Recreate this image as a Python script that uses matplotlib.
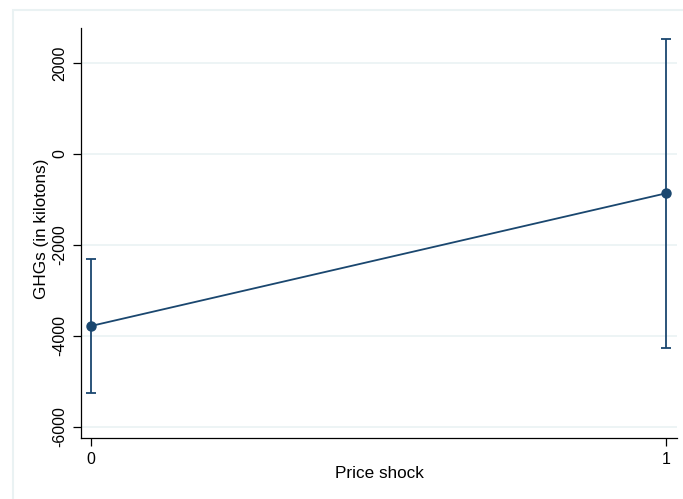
import matplotlib
matplotlib.use("Agg")
import matplotlib.pyplot as plt
from matplotlib.patches import Rectangle

plt.rcParams['font.family'] = ['Liberation Sans', 'DejaVu Sans']

# margins: predicted GHGs by price shock, with 95% CIs
shock = [0, 1]
ghg = [-3780, -864]
ci_low = [-5253, -4257]
ci_high = [-2308, 2527]
yticks = [-6000, -4000, -2000, 0, 2000]

navy = '#1a476f'
grid_col = '#eaf2f3'

fig = plt.figure(figsize=(6.83, 4.99), dpi=100)
ax = fig.add_axes([81 / 683, 1 - 438 / 499, (677 - 81) / 683, (438 - 28) / 499])

# light outer frame around the graph region
fig.patches.append(Rectangle((13 / 683, -0.05), 1.0, 1 - 10 / 499 + 0.05,
                             transform=fig.transFigure, fill=False,
                             edgecolor=grid_col, linewidth=1.5))

err_lo = [g - l for g, l in zip(ghg, ci_low)]
err_hi = [h - g for g, h in zip(ghg, ci_high)]
ax.errorbar(shock, ghg, yerr=[err_lo, err_hi], fmt='none', ecolor=navy,
            elinewidth=1.3, capsize=3.6, capthick=1.3, zorder=3)
ax.plot(shock, ghg, color=navy, linewidth=1.3, marker='o', markersize=6.5, zorder=4)

ax.set_xlim(-0.0174, 1.019)
ax.set_ylim(-6242, 2769)
ax.set_xticks(shock)
ax.set_yticks(yticks)
ax.set_yticklabels([str(t) for t in yticks], rotation=90, va='center')
ax.grid(axis='y', color=grid_col, linewidth=1.2)
ax.set_axisbelow(True)

for s in ['top', 'right']:
    ax.spines[s].set_visible(False)
for s in ['left', 'bottom']:
    ax.spines[s].set_linewidth(0.9)
ax.tick_params(direction='out', length=6, width=0.9, labelsize=11.5, pad=4)

ax.set_xlabel('Price shock', fontsize=12.3)
ax.set_ylabel('GHGs (in kilotons)', fontsize=12.3)
ax.xaxis.set_label_coords(0.5, -0.068)
ax.yaxis.set_label_coords(-0.054, 0.51)

fig.savefig('out.png', dpi=100)
